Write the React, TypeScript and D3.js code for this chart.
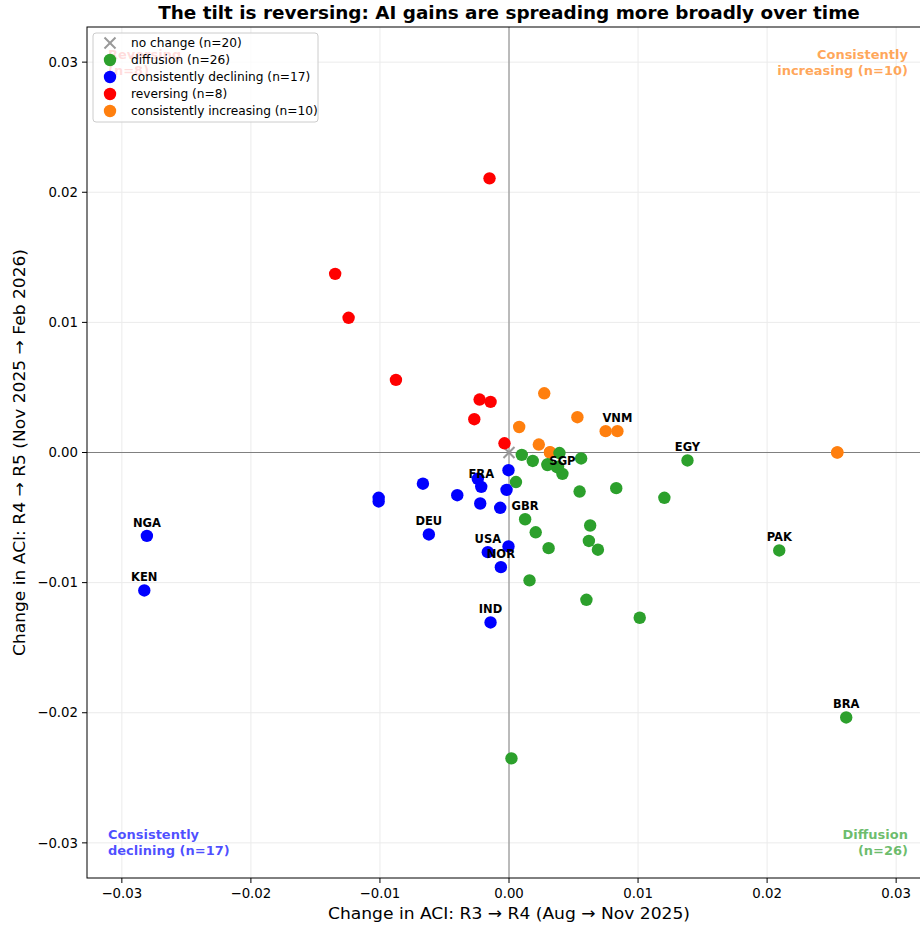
import React from 'react';
import * as d3 from 'd3';

// canvas + axes box (right edge runs past the canvas, like the source figure)
const width = 920;
const height = 926;
const box = { left: 87, right: 931, top: 27, bottom: 878 };
const LIM = 0.0327;

const tickValues = [-0.03, -0.02, -0.01, 0, 0.01, 0.02, 0.03];
const tickLabels = ['\u22120.03', '\u22120.02', '\u22120.01', '0.00', '0.01', '0.02', '0.03'];

type Pt = { x: number; y: number; code?: string };

// R3->R4 change (x) vs R4->R5 change (y)
const noChange: Pt[] = [{ x: 0, y: 0 }];

const increasing: Pt[] = [
  { x: 0.00273, y: 0.00455 },
  { x: 0.0053, y: 0.00271 },
  { x: 0.00079, y: 0.00196 },
  { x: 0.00749, y: 0.00164 },
  { x: 0.0084, y: 0.00164, code: 'VNM' },
  { x: 0.00231, y: 0.00061 },
  { x: 0.00317, y: 0.0 },
  { x: 0.02543, y: 0.0 },
  { x: 0.00318, y: 0.00002 },
  { x: 0.02545, y: 0.00001 },
];

const diffusion: Pt[] = [
  { x: 0.00099, y: -0.00018 },
  { x: 0.00184, y: -0.00065 },
  { x: 0.00391, y: -0.00004 },
  { x: 0.00559, y: -0.00046 },
  { x: 0.00298, y: -0.00096 },
  { x: 0.00372, y: -0.00113 },
  { x: 0.00414, y: -0.00164, code: 'SGP' },
  { x: 0.00054, y: -0.00227 },
  { x: 0.00547, y: -0.003 },
  { x: 0.00831, y: -0.00274 },
  { x: 0.01204, y: -0.00348 },
  { x: 0.01383, y: -0.00061, code: 'EGY' },
  { x: 0.00125, y: -0.00513, code: 'GBR' },
  { x: 0.00207, y: -0.00613 },
  { x: 0.00629, y: -0.00561 },
  { x: 0.00619, y: -0.0068 },
  { x: 0.00689, y: -0.00747 },
  { x: 0.00307, y: -0.00735 },
  { x: 0.00159, y: -0.00983 },
  { x: 0.006, y: -0.01132 },
  { x: 0.01013, y: -0.0127 },
  { x: 0.02094, y: -0.00753, code: 'PAK' },
  { x: 0.02613, y: -0.02036, code: 'BRA' },
  { x: 0.00019, y: -0.02351 },
  { x: 0.0038, y: -0.0011 },
  { x: 0.003, y: -0.0009 },
];

const declining: Pt[] = [
  { x: -0.00004, y: -0.00136 },
  { x: -0.00242, y: -0.00202 },
  { x: -0.00215, y: -0.00264, code: 'FRA' },
  { x: -0.00667, y: -0.0024 },
  { x: -0.00401, y: -0.00328 },
  { x: -0.00019, y: -0.00287 },
  { x: -0.00223, y: -0.00392 },
  { x: -0.00068, y: -0.00425 },
  { x: -0.0101, y: -0.00348 },
  { x: -0.0101, y: -0.00376 },
  { x: -0.00621, y: -0.0063, code: 'DEU' },
  { x: -0.00004, y: -0.00722 },
  { x: -0.00164, y: -0.00766, code: 'USA' },
  { x: -0.00063, y: -0.00881, code: 'NOR' },
  { x: -0.02806, y: -0.00641, code: 'NGA' },
  { x: -0.02826, y: -0.0106, code: 'KEN' },
  { x: -0.00143, y: -0.01306, code: 'IND' },
];

const reversing: Pt[] = [
  { x: -0.00151, y: 0.02107 },
  { x: -0.01347, y: 0.01373 },
  { x: -0.01243, y: 0.01035 },
  { x: -0.00876, y: 0.00558 },
  { x: -0.00228, y: 0.00407 },
  { x: -0.00143, y: 0.00389 },
  { x: -0.00269, y: 0.00256 },
  { x: -0.00035, y: 0.00071 },
];

const legendLabels = [
  'no change (n=20)',
  'diffusion (n=26)',
  'consistently declining (n=17)',
  'reversing (n=8)',
  'consistently increasing (n=10)',
];
const legendColors = ['#999999', '#2ca02c', '#0000ff', '#ff0000', '#ff7f0e'];

const FONT = 'DejaVu Sans, sans-serif';

export default function App() {
  const x = d3.scaleLinear().domain([-LIM, LIM]).range([box.left, box.right]);
  const y = d3.scaleLinear().domain([-LIM, LIM]).range([box.bottom, box.top]);

  // drawn in this order so green sits above orange, as in the source
  const layers: [Pt[], string][] = [
    [increasing, '#ff7f0e'],
    [diffusion, '#2ca02c'],
    [declining, '#0000ff'],
    [reversing, '#ff0000'],
  ];
  const labelled = [...increasing, ...diffusion, ...declining, ...reversing].filter(d => d.code);

  const cross = (cx: number, cy: number, s: number, color: string, key?: string) => (
    <g key={key} stroke={color} strokeWidth={2}>
      <line x1={cx - s} y1={cy - s} x2={cx + s} y2={cy + s} />
      <line x1={cx - s} y1={cy + s} x2={cx + s} y2={cy - s} />
    </g>
  );

  const quadrantNote = (lines: string[], px: number, py: number, anchor: string, color: string) => (
    <text x={px} y={py} textAnchor={anchor} fill={color} fontFamily={FONT} fontWeight="bold" fontSize={13}>
      {lines.map((l, i) => (
        <tspan key={i} x={px} dy={i === 0 ? 0 : 15.5}>{l}</tspan>
      ))}
    </text>
  );

  return (
    <svg width={width} height={height} style={{ position: 'absolute', left: 0, top: 0, background: '#fff' }}>
      <rect width={width} height={height} fill="#fff" />
      <defs>
        <clipPath id="plot">
          <rect x={box.left} y={box.top} width={box.right - box.left} height={box.bottom - box.top} />
        </clipPath>
      </defs>

      <text x={(box.left + box.right) / 2} y={19} textAnchor="middle" fontFamily={FONT} fontWeight="bold" fontSize={18.4}>
        The tilt is reversing: AI gains are spreading more broadly over time
      </text>

      {/* grid */}
      <g stroke="#ebebeb" strokeWidth={1}>
        {tickValues.map(t => (
          <line key={'gx' + t} x1={x(t)} x2={x(t)} y1={box.top} y2={box.bottom} />
        ))}
        {tickValues.map(t => (
          <line key={'gy' + t} x1={box.left} x2={box.right} y1={y(t)} y2={y(t)} />
        ))}
      </g>

      {/* zero reference lines */}
      <line x1={x(0)} x2={x(0)} y1={box.top} y2={box.bottom} stroke="#808080" strokeWidth={1} />
      <line x1={box.left} x2={box.right} y1={y(0)} y2={y(0)} stroke="#808080" strokeWidth={1} />

      {quadrantNote(['Reversing', '(n=8)'], x(-LIM) + 21, 59, 'start', 'rgba(255,0,0,0.7)')}
      {quadrantNote(['Consistently', 'increasing (n=10)'], x(LIM) - 23, 59, 'end', 'rgba(255,127,14,0.7)')}
      {quadrantNote(['Consistently', 'declining (n=17)'], x(-LIM) + 21, 839, 'start', 'rgba(0,0,255,0.7)')}
      {quadrantNote(['Diffusion', '(n=26)'], x(LIM) - 23, 839, 'end', 'rgba(44,160,44,0.7)')}

      <g clipPath="url(#plot)">
        {noChange.map((d, i) => cross(x(d.x), y(d.y), 5.5, '#999999', 'nc' + i))}
        {layers.map(([pts, color], li) =>
          pts.map((d, i) => <circle key={li + '-' + i} cx={x(d.x)} cy={y(d.y)} r={6.2} fill={color} />)
        )}
        {labelled.map(d => (
          <text key={d.code} x={x(d.x)} y={y(d.y) - 9} textAnchor="middle" fontFamily={FONT} fontWeight="bold" fontSize={11.5}>
            {d.code}
          </text>
        ))}
      </g>

      {/* spines */}
      <rect x={box.left} y={box.top} width={box.right - box.left} height={box.bottom - box.top} fill="none" stroke="#000" strokeWidth={1} />

      {/* x ticks */}
      {tickValues.map((t, i) => (
        <g key={'xt' + t} transform={`translate(${x(t)},${box.bottom})`}>
          <line y2={5} stroke="#000" />
          <text y={20} textAnchor="middle" fontFamily={FONT} fontSize={13.3}>{tickLabels[i]}</text>
        </g>
      ))}
      {/* y ticks */}
      {tickValues.map((t, i) => (
        <g key={'yt' + t} transform={`translate(${box.left},${y(t)})`}>
          <line x2={-5} stroke="#000" />
          <text x={-9} dy="0.35em" textAnchor="end" fontFamily={FONT} fontSize={13.3}>{tickLabels[i]}</text>
        </g>
      ))}

      <text x={(box.left + box.right) / 2} y={919} textAnchor="middle" fontFamily={FONT} fontSize={16} textLength={362} lengthAdjust="spacingAndGlyphs">
        Change in ACI: R3 → R4 (Aug → Nov 2025)
      </text>
      <text transform={`translate(25,${(box.top + box.bottom) / 2}) rotate(-90)`} textAnchor="middle" fontFamily={FONT} fontSize={16} textLength={407} lengthAdjust="spacingAndGlyphs">
        Change in ACI: R4 → R5 (Nov 2025 → Feb 2026)
      </text>

      {/* legend */}
      <g>
        <rect x={93} y={33} width={225} height={89} rx={3} fill="rgba(255,255,255,0.8)" stroke="#cccccc" />
        {legendLabels.map((l, i) => {
          const cy = 43 + i * 17;
          return (
            <g key={l}>
              {i === 0 ? cross(110, cy, 5.5, legendColors[0]) : <circle cx={110} cy={cy} r={6.2} fill={legendColors[i]} />}
              <text x={131} y={cy} dy="0.35em" fontFamily={FONT} fontSize={12.2}>{l}</text>
            </g>
          );
        })}
      </g>
    </svg>
  );
}
